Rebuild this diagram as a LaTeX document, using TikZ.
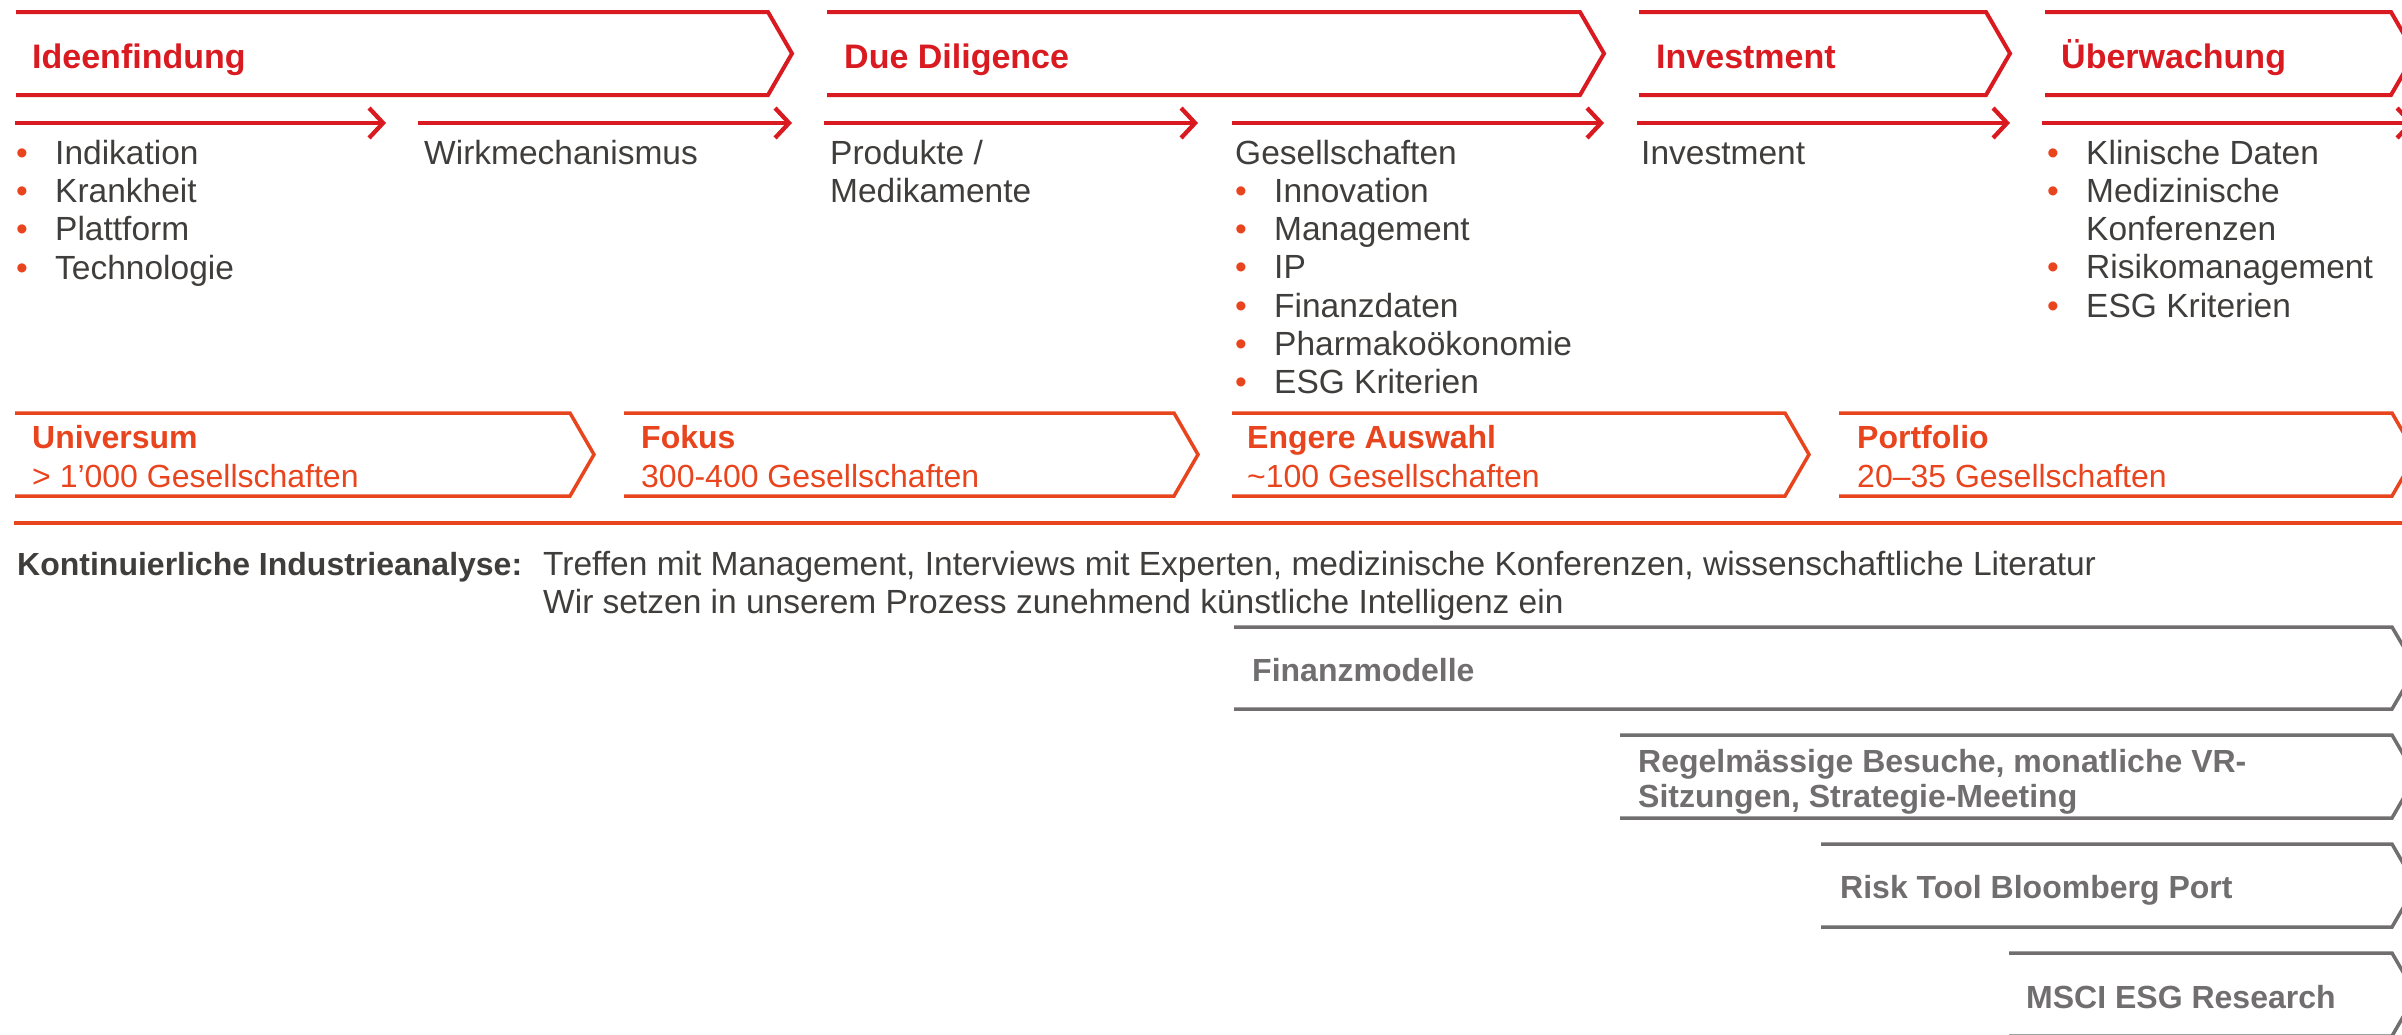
\documentclass[tikz,border=0pt]{standalone}
\usepackage{fontspec}
\setmainfont{Liberation Sans}
\usetikzlibrary{positioning, arrows.meta}

\definecolor{chevred}{RGB}{218,26,33}
\definecolor{funnelred}{RGB}{232,68,30}
\definecolor{bodygray}{RGB}{64,62,60}
\definecolor{toolgray}{RGB}{112,110,110}

\newcommand{\bul}{\makebox[39pt][l]{\textcolor{funnelred}{\textbullet}}}

\begin{document}
\begin{tikzpicture}[x=1pt, y=-1pt,
    phase/.style={draw=chevred, line width=4pt},
    funnel/.style={draw=funnelred, line width=3.5pt},
    tool/.style={draw=toolgray, line width=3.5pt},
    flow/.style={draw=chevred, line width=4.3pt, -{Straight Barb[length=14pt, width=30pt]}},
    phasetitle/.style={anchor=base west, inner sep=0pt, text=chevred, font=\fontsize{34}{40}\selectfont\bfseries},
    item/.style={anchor=base west, inner sep=0pt, align=left, text=bodygray, font=\fontsize{33.5}{38.3}\selectfont},
    funneltext/.style={anchor=base west, inner sep=0pt, align=left, text=funnelred, font=\fontsize{32}{39}\selectfont},
    tooltext/.style={anchor=base west, inner sep=0pt, align=left, text=toolgray, font=\fontsize{32}{35}\selectfont\bfseries},
  ]
  \clip (0,0) rectangle (2402,1034);

  % phases
  \draw[phase] (16,12) -- (768,12) -- (792,53.5) -- (768,95) -- (16,95);
  \draw[phase] (827,12) -- (1580,12) -- (1604,53.5) -- (1580,95) -- (827,95);
  \draw[phase] (1639,12) -- (1986,12) -- (2010,53.5) -- (1986,95) -- (1639,95);
  \draw[phase] (2045,12) -- (2391,12) -- (2415,53.5) -- (2391,95) -- (2045,95);

  \node[phasetitle] (ideen) at (32,68) {Ideenfindung};
  \node[phasetitle] (due) at (844,68) {Due Diligence};
  \node[phasetitle] (invest) at (1656,68) {Investment};
  \node[phasetitle] (watch) at (2061,68) {Überwachung};

  % steps
  \coordinate (s1a) at (15,123);   \coordinate (s1b) at (386,123);
  \coordinate (s2a) at (418,123);  \coordinate (s2b) at (792,123);
  \coordinate (s3a) at (824,123);  \coordinate (s3b) at (1198,123);
  \coordinate (s4a) at (1232,123); \coordinate (s4b) at (1604,123);
  \coordinate (s5a) at (1637,123); \coordinate (s5b) at (2010,123);
  \coordinate (s6a) at (2042,123); \coordinate (s6b) at (2414,123);
  \draw[flow] (s1a) -- (s1b);
  \draw[flow] (s2a) -- (s2b);
  \draw[flow] (s3a) -- (s3b);
  \draw[flow] (s4a) -- (s4b);
  \draw[flow] (s5a) -- (s5b);
  \draw[flow] (s6a) -- (s6b);

  % multi-line nodes sit on the baseline of their last line
  \node[item] (indik) at (16,279) {\bul Indikation\\\bul Krankheit\\\bul Plattform\\\bul Technologie};
  \node[item] (wirk) at (424,164) {Wirkmechanismus};
  \node[item] (prod) at (830,202.3) {Produkte /\\Medikamente};
  \node[item] (ges) at (1235,393.8) {Gesellschaften\\\bul Innovation\\\bul Management\\\bul IP\\\bul Finanzdaten\\\bul Pharmakoökonomie\\\bul ESG Kriterien};
  \node[item] (inv) at (1641,164) {Investment};
  \node[item] (klin) at (2047,317.2) {\bul Klinische Daten\\\bul Medizinische\\\hspace*{39pt}Konferenzen\\\bul Risikomanagement\\\bul ESG Kriterien};

  % funnel
  \draw[funnel] (15,413) -- (570,413) -- (594,454.5) -- (570,496) -- (15,496);
  \draw[funnel] (624,413) -- (1174,413) -- (1198,454.5) -- (1174,496) -- (624,496);
  \draw[funnel] (1232,413) -- (1785,413) -- (1809,454.5) -- (1785,496) -- (1232,496);
  \draw[funnel] (1839,413) -- (2392,413) -- (2416,454.5) -- (2392,496) -- (1839,496);

  \node[funneltext] (univ) at (32,487) {{\bfseries Universum}\\> 1’000 Gesellschaften};
  \node[funneltext] (fokus) at (641,487) {{\bfseries Fokus}\\300-400 Gesellschaften};
  \node[funneltext] (engere) at (1247,487) {{\bfseries Engere Auswahl}\\\textasciitilde100 Gesellschaften};
  \node[funneltext] (portf) at (1857,487) {{\bfseries Portfolio}\\20–35 Gesellschaften};

  \coordinate (sepa) at (14,523); \coordinate (sepb) at (2402,523);
  \draw[funnelred, line width=4pt] (sepa) -- (sepb);

  \node[item, font=\fontsize{32}{38}\selectfont\bfseries] (kont) at (17,575) {Kontinuierliche Industrieanalyse:};
  \node[item, font=\fontsize{33.5}{38}\selectfont] (kontinfo) at (543,613) {Treffen mit Management, Interviews mit Experten, medizinische Konferenzen, wissenschaftliche Literatur\\Wir setzen in unserem Prozess zunehmend künstliche Intelligenz ein};

  % tools
  \draw[tool] (1234,627) -- (2392,627) -- (2416,668) -- (2392,709) -- (1234,709);
  \draw[tool] (1620,735) -- (2392,735) -- (2416,776.5) -- (2392,818) -- (1620,818);
  \draw[tool] (1821,844) -- (2392,844) -- (2416,885.5) -- (2392,927) -- (1821,927);
  \draw[tool] (2009,953) -- (2392,953) -- (2416,994.5) -- (2392,1036) -- (2009,1036);

  \node[tooltext] (finanz) at (1252,681) {Finanzmodelle};
  \node[tooltext] (besuche) at (1638,807) {Regelmässige Besuche, monatliche VR-\\Sitzungen, Strategie-Meeting};
  \node[tooltext] (risk) at (1840,898) {Risk Tool Bloomberg Port};
  \node[tooltext] (msci) at (2026,1008) {MSCI ESG Research};
\end{tikzpicture}
\end{document}
